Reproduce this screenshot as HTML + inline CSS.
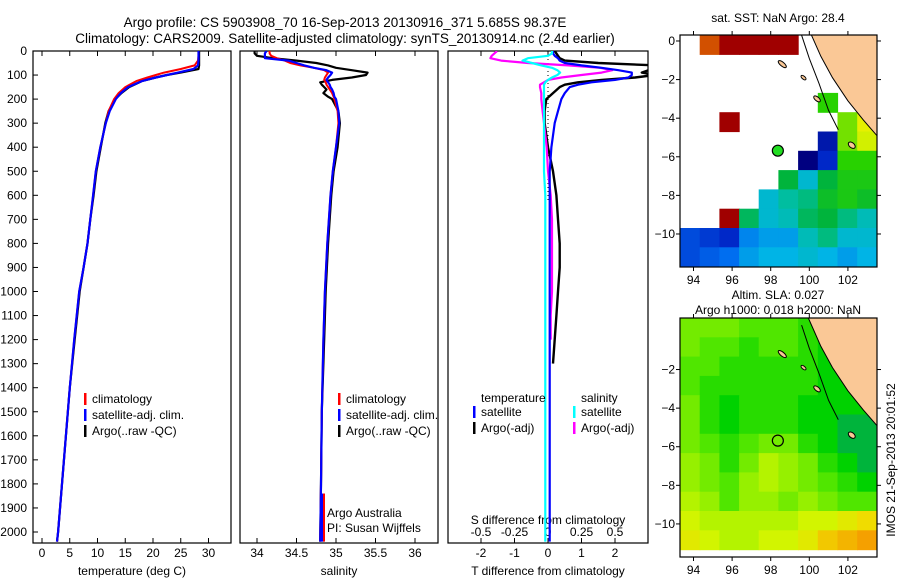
<!DOCTYPE html>
<html><head><meta charset="utf-8"><style>
body{margin:0;background:#fff;}
svg{display:block;font-family:"Liberation Sans",sans-serif;}
text{fill:#000;}
</style></head><body>
<svg id="fig" width="900" height="580" viewBox="0 0 900 580">
<text x="345" y="27" font-size="13.5" text-anchor="middle">Argo profile: CS 5903908_70 16-Sep-2013 20130916_371 5.685S 98.37E</text>
<text x="345" y="43" font-size="13.5" text-anchor="middle">Climatology: CARS2009. Satellite-adjusted climatology: synTS_20130914.nc (2.4d earlier)</text>
<g id="g"></g>
</svg>
<script>
// ---------- data ----------
const depthTicks=[0,100,200,300,400,500,600,700,800,900,1000,1100,1200,1300,1400,1500,1600,1700,1800,1900,2000];
const tempTicks=[0,5,10,15,20,25,30];
const salTicks=[34,34.5,35,35.5,36];
const tDiffTicks=[-2,-1,0,1,2];
const sDiffTicks=[-0.5,-0.25,0,0.25,0.5];
const sDiffTickLabels=["-0.5","-0.25","0","0.25","0.5"];

const depthsT=[0,20,40,60,75,90,100,110,125,150,175,200,250,300,400,500,600,700,800,900,1000,1200,1400,1600,1800,2000,2040];
const climT=[28.2,28.2,28.1,27.5,25,22,20.5,19,17,15,13.8,13,12,11.5,10.5,9.7,9.2,8.7,8.2,7.5,6.7,5.8,5,4.3,3.6,2.9,2.7];
const satT=[28.2,28.2,28.2,28.1,27.3,24.5,22.5,20.5,18,15.5,14.2,13.3,12.2,11.5,10.5,9.7,9.2,8.7,8.2,7.5,6.7,5.8,5,4.3,3.6,2.9,2.7];
const argoT=[28.3,28.3,28.3,28.3,28.2,25,22.5,20.5,18,15.7,14.3,13.2,12,11.4,10.6,9.8,9.3,8.7,8.2,7.5,6.8,5.9,5,4.3,3.6,2.9,2.7];

const depthsS=[0,10,20,30,40,50,60,70,80,90,100,110,120,130,140,150,160,175,190,200,250,300,400,500,600,800,1000,1200,1500,1800,2040];
const climS=[34.16,34.16,34.18,34.25,34.35,34.42,34.55,34.72,34.85,34.9,34.88,34.86,34.85,34.87,34.88,34.9,34.92,34.95,34.97,34.98,35.02,35.03,35.0,34.96,34.93,34.89,34.86,34.84,34.82,34.81,34.8];
const satS=[34.12,34.1,34.1,34.1,34.4,34.5,34.6,34.72,34.88,34.95,34.93,34.9,34.88,34.9,34.92,34.93,34.95,34.97,34.98,35.0,35.03,35.04,35.0,34.96,34.93,34.89,34.86,34.84,34.82,34.81,34.8];
const argoS=[33.97,33.97,34.0,34.2,34.5,34.75,34.9,35.0,35.2,35.4,35.38,35.2,34.95,34.8,34.82,34.85,34.88,34.84,34.9,34.95,35.03,35.05,35.02,34.97,34.94,34.9,34.87,34.85,34.82,34.81,34.8];

const depthsD=[0,10,20,30,40,50,60,70,80,90,100,110,120,130,140,150,175,200,250,300,400,500,600,700,800,900,1000,1100,1200,1300,1500,1800,2040];
const tDiffSat=[0.15,0.15,0.2,0.3,0.35,0.5,1.0,1.6,2.1,2.5,2.5,2.4,2.0,1.3,0.9,0.65,0.5,0.4,0.3,0.2,0.1,0.05,0.05,0.05,0.05,0.05,0.05,0.05,0.05,0.05,0.05,0.05,0.05];
const tDiffArgo=[0.2,0.25,0.3,0.35,0.5,1.5,3.2,3.2,3.0,2.8,3.2,2.6,1.6,0.9,0.5,0.35,0.15,-0.05,-0.1,-0.1,0.0,0.15,0.25,0.3,0.35,0.35,0.3,0.25,0.2,0.15,null,null,null];
const sDiffSat=[0.03,0.03,0.0,-0.15,-0.19,-0.12,-0.05,0.03,0.07,0.09,0.07,0.03,0.0,-0.02,-0.03,-0.03,-0.03,-0.03,-0.03,-0.03,-0.03,-0.03,-0.02,-0.02,-0.02,-0.02,-0.02,-0.02,-0.02,-0.02,-0.02,-0.02,-0.02];
const sDiffArgo=[-0.38,-0.4,-0.42,-0.43,-0.35,-0.15,0.15,0.39,0.48,0.4,0.25,0.1,0.0,-0.03,-0.06,-0.06,-0.05,-0.05,-0.04,-0.03,-0.01,0.0,0.02,0.03,0.03,0.03,0.03,0.02,0.02,null,null,null,null];

const lonTicks=[94,96,98,100,102];
const latTicksTop=[0,-2,-4,-6,-8,-10];
const latTicksBot=[-2,-4,-6,-8,-10];
// SST grid: rows from lat 0.3 downward (1 deg), cols from lon 93.3 (1.02 deg); 0 = no data
const sstGrid=[
[0,29.7,30,30,30,30,0,0,0,0],
[0,0,0,0,0,0,0,0,0,0],
[0,0,0,0,0,0,0,0,0,0],
[0,0,0,0,0,0,0,28.6,0,0],
[0,0,30,0,0,0,0,0,28.8,29.2],
[0,0,0,0,0,0,0,26.8,28.8,29.1],
[0,0,0,0,0,0,26.5,27.0,28.6,28.6],
[0,0,0,0,0,28.3,27.8,28.3,28.5,28.5],
[0,0,0,0,27.8,28.0,28.1,28.4,28.5,28.4],
[0,0,30,28.2,27.8,27.9,28.2,28.3,28.1,27.9],
[27.2,27.1,27.0,27.5,27.6,27.6,27.9,28.1,27.8,27.8],
[27.2,27.3,27.4,27.6,27.7,27.7,27.8,27.7,27.6,27.7]];
// SLA grid: rows from lat 0.67 downward
const slaGrid=[
[0.05,0.05,0.05,0.04,0.04,0.04,0.03,0.03,0.02,0.02],
[0.05,0.04,0.04,0.03,0.04,0.04,0.03,0.02,0.02,0.02],
[0.04,0.04,0.03,0.03,0.03,0.03,0.03,0.02,0.02,0.02],
[0.04,0.03,0.03,0.03,0.03,0.03,0.03,0.02,0.02,0.02],
[0.05,0.03,0.02,0.03,0.03,0.03,0.02,0.02,0.02,0.02],
[0.05,0.03,0.02,0.03,0.03,0.03,0.02,0.02,0.01,0.01],
[0.05,0.04,0.03,0.04,0.05,0.05,0.03,0.02,0.01,0.01],
[0.06,0.05,0.03,0.05,0.07,0.06,0.05,0.03,0.02,0.01],
[0.06,0.05,0.04,0.06,0.07,0.06,0.05,0.04,0.03,0.02],
[0.07,0.06,0.04,0.06,0.06,0.05,0.06,0.05,0.04,0.04],
[0.08,0.07,0.07,0.07,0.07,0.07,0.08,0.08,0.09,0.10],
[0.09,0.08,0.07,0.07,0.08,0.08,0.09,0.11,0.12,0.13]];
const argoLon=98.37, argoLat=-5.685;

// ---------- helpers ----------
const NS="http://www.w3.org/2000/svg";
const G=document.getElementById('g');
function mk(tag,attrs,parent){const e=document.createElementNS(NS,tag);for(const k in attrs)e.setAttribute(k,attrs[k]);(parent||G).appendChild(e);return e;}
function txt(x,y,s,size,anchor,parent){const t=mk('text',{x:x,y:y,'font-size':size||12,'text-anchor':anchor||'start'},parent);t.textContent=s;return t;}
const yD=d=>51+d*0.2405;

function panel(x0,x1,name){
  const r=mk('rect',{x:x0,y:51,width:x1-x0,height:492,fill:'none',stroke:'#000','stroke-width':1.2});
  
  
}
function line(xs,ds,xf,color,w,name){
  let p='',pen=false;
  for(let i=0;i<ds.length;i++){
    if(xs[i]===null||xs[i]===undefined){pen=false;continue;}
    const X=Math.max(-5,Math.min(2000,xf(xs[i])));
    p+=(pen?'L':'M')+X.toFixed(1)+' '+yD(ds[i]).toFixed(1);pen=true;
  }
  const e=mk('path',{d:p,fill:'none',stroke:color,'stroke-width':w,'stroke-linejoin':'round'});
  
  
  return e;
}
function xTicks(vals,labels,xf,y,name){
  vals.forEach((v,i)=>{
    const X=xf(v);
    mk('line',{x1:X,y1:543,x2:X,y2:538,stroke:'#000'});
    mk('line',{x1:X,y1:51,x2:X,y2:56,stroke:'#000'});
    const t=txt(X,y,labels[i],12,'middle');
    
    
  });
}
function clipFor(id,x0,x1){const c=mk('clipPath',{id:id});mk('rect',{x:x0,y:51,width:x1-x0,height:492},c);}

// ---------- panel 1: temperature ----------
const xT=v=>42+v*5.55;
depthTicks.forEach(d=>{
  mk('line',{x1:33,y1:yD(d),x2:38,y2:yD(d),stroke:'#000'});
  const t=txt(27,yD(d)+4,String(d),12,'end');
  
  
});
panel(33,231,'temperature-panel');
xTicks(tempTicks,tempTicks.map(String),xT,557,'temperature-tick-label');
clipFor('c1',33,231);clipFor('c2',240,438);clipFor('c3',448,648);
const g1=mk('g',{'clip-path':'url(#c1)'});
[[argoT,'#000',2.2,'argo-temperature-line'],[climT,'#f00',2,'climatology-temperature-line'],[satT,'#00f',2.2,'satellite-temperature-line']].forEach(a=>{g1.appendChild(line(a[0],depthsT,xT,a[1],a[2],a[3]));});
txt(132,575,'temperature (deg C)',12,'middle');
function legend(x,y,entries,prefix){
  entries.forEach((e,i)=>{
    mk('rect',{x:x,y:y+i*16-9,width:2.5,height:12,fill:e[1]});
    const t=txt(x+8,y+i*16+1,e[0],12);
    
    
  });
}
legend(84,402,[['climatology','#f00'],['satellite-adj. clim.','#00f'],['Argo(..raw -QC)','#000']],'temperature');

// ---------- panel 2: salinity ----------
const xS=v=>257+(v-34)*79;
panel(240,438,'salinity-panel');
xTicks(salTicks,['34','34.5','35','35.5','36'],xS,557,'salinity-tick-label');
const g2=mk('g',{'clip-path':'url(#c2)'});
[[argoS,'#000',2.2,'argo-salinity-line'],[climS,'#f00',2,'climatology-salinity-line'],[satS,'#00f',2.2,'satellite-salinity-line']].forEach(a=>{g2.appendChild(line(a[0],depthsS,xS,a[1],a[2],a[3]));});
txt(339,575,'salinity',12,'middle');
legend(338,402,[['climatology','#f00'],['satellite-adj. clim.','#00f'],['Argo(..raw -QC)','#000']],'salinity');
mk('rect',{x:321,y:yD(1840),width:2.5,height:yD(2040)-yD(1840),fill:'#00f'});
mk('rect',{x:323,y:yD(1840),width:2,height:yD(2040)-yD(1840),fill:'#f00'});
txt(327,517,'Argo Australia',12);
txt(327,532,'PI: Susan Wijffels',12);

// ---------- panel 3: differences ----------
const xTD=v=>548+v*33.5;
const xSD=v=>548+v*134;
panel(448,648,'difference-panel');
xTicks(tDiffTicks,tDiffTicks.map(String),xTD,557,'t-diff-tick-label');
sDiffTicks.forEach((v,i)=>{const t=txt(xSD(v),536,sDiffTickLabels[i],12,'middle');});
txt(548,524,'S difference from climatology',12,'middle');
txt(548,575,'T difference from climatology',12,'middle');
mk('line',{x1:548,y1:51,x2:548,y2:200,stroke:'#000','stroke-dasharray':'1 3'});
const g3=mk('g',{'clip-path':'url(#c3)'});
[[tDiffArgo,xTD,'#000',2.4,'argo-t-diff-line'],[sDiffArgo,xSD,'#f0f',2.2,'argo-s-diff-line'],[tDiffSat,xTD,'#00f',2.2,'satellite-t-diff-line'],[sDiffSat,xSD,'#0ff',2.2,'satellite-s-diff-line']].forEach(a=>{g3.appendChild(line(a[0],depthsD,a[1],a[2],a[3],a[4]));});
txt(481,402,'temperature',12);
txt(581,402,'salinity',12);
legend(473,415,[['satellite','#00f'],['Argo(-adj)','#000']],'diff-temperature');
legend(573,415,[['satellite','#0ff'],['Argo(-adj)','#f0f']],'diff-salinity');

// ---------- maps ----------
function interp(stops,v){
  if(v<=stops[0][0])return stops[0][1];
  for(let i=1;i<stops.length;i++){if(v<=stops[i][0]){const a=stops[i-1],b=stops[i],f=(v-a[0])/(b[0]-a[0]);return 'rgb('+[0,1,2].map(k=>Math.round(a[1][k]+f*(b[1][k]-a[1][k]))).join(',')+')';}}
  const l=stops[stops.length-1][1];return 'rgb('+l.join(',')+')';
}
function fix(stops){return stops.map(s=>[s[0],s[1]]);}
const sstStops=[[26.5,[0,0,128]],[27.0,[0,40,200]],[27.4,[0,110,240]],[27.7,[0,180,230]],[28.0,[0,190,160]],[28.3,[0,180,60]],[28.6,[40,210,0]],[29.0,[190,240,0]],[29.3,[250,240,0]],[29.7,[210,80,0]],[30,[160,0,0]]];
const slaStops=[[0.01,[0,180,60]],[0.02,[0,210,0]],[0.04,[80,230,0]],[0.06,[150,240,0]],[0.08,[210,245,0]],[0.10,[240,220,0]],[0.13,[245,160,0]]];
function colr(stops,v){if(v<=stops[0][0]){const c=stops[0][1];return 'rgb('+c.join(',')+')';}return interp(stops,v);}

function map(x0,y0,w,h,latTop,grid,stops,ticks,id,name,filled){
  const lonL=93.3,sc=19.3;
  const X=lo=>x0+(lo-lonL)*sc, Y=la=>y0+(latTop-la)*sc;
  const cp=mk('clipPath',{id:id});mk('rect',{x:x0,y:y0,width:w,height:h},cp);
  const g=mk('g',{'clip-path':'url(#'+id+')'});
  
  
  mk('rect',{x:x0,y:y0,width:w,height:h,fill:'#fff'},g);
  grid.forEach((row,r)=>row.forEach((v,c)=>{
    if(!v)return;
    const cell=mk('rect',{x:(X(lonL+c*1.02)).toFixed(1),y:(Y(latTop-r)).toFixed(1),width:(1.02*sc+0.6).toFixed(1),height:(sc+0.6).toFixed(1),fill:colr(stops,v)},g);
    
    
  }));
  const land=[[99.8,1],[100.2,0.1],[100.6,-0.8],[101.2,-1.9],[102.0,-3.1],[102.8,-4.1],[103.5,-4.9],[104,-5],[104,1]];
  const lp=mk('polygon',{points:land.map(p=>X(p[0]).toFixed(1)+','+Y(p[1]).toFixed(1)).join(' '),fill:'#fac896',stroke:'#000','stroke-width':1},g);
  
  
  const shelf=[[99.6,0.3],[100.0,-0.9],[100.5,-2.2],[101.0,-3.6],[101.5,-4.6]];
  mk('polyline',{points:shelf.map(p=>X(p[0]).toFixed(1)+','+Y(p[1]).toFixed(1)).join(' '),fill:'none',stroke:'#000','stroke-width':1},g);
  [[98.6,-1.2,5,2],[99.7,-1.9,3,1.5],[100.4,-3.0,4,2],[102.2,-5.4,4,2.5]].forEach(isl=>{
    mk('ellipse',{cx:X(isl[0]),cy:Y(isl[1]),rx:isl[2],ry:isl[3],fill:'#fac896',stroke:'#000','stroke-width':1,transform:'rotate(40 '+X(isl[0])+' '+Y(isl[1])+')'},g);
  });
  const pt=mk('circle',{cx:X(argoLon),cy:Y(argoLat),r:5.5,fill:filled?'#22dd22':'none',stroke:'#000','stroke-width':1.2});
  
  
  const fr=mk('rect',{x:x0,y:y0,width:w,height:h,fill:'none',stroke:'#000','stroke-width':1.2});
  
  
  lonTicks.forEach(lo=>{mk('line',{x1:X(lo),y1:y0+h,x2:X(lo),y2:y0+h+4,stroke:'#000'});mk('line',{x1:X(lo),y1:y0,x2:X(lo),y2:y0-4,stroke:'#000'});const t=txt(X(lo),y0+h+17,String(lo),12,'middle');});
  ticks.forEach(la=>{mk('line',{x1:x0,y1:Y(la),x2:x0-4,y2:Y(la),stroke:'#000'});mk('line',{x1:x0+w,y1:Y(la),x2:x0+w+4,y2:Y(la),stroke:'#000'});const t=txt(x0-5,Y(la)+4,String(la).replace('-','\u2212'),12,'end');});
}
map(680,35,197,232,0.31,sstGrid,sstStops,latTicksTop,'m1','sst-map',true);
map(680,318,197,239,0.67,slaGrid,slaStops,latTicksBot,'m2','sla-map',false);
txt(778,22,'sat. SST: NaN Argo: 28.4',12,'middle');
txt(778,299,'Altim. SLA: 0.027',12,'middle');
txt(778,314,'Argo h1000: 0.018 h2000: NaN',12,'middle');
const st=txt(0,0,'IMOS 21-Sep-2013 20:01:52',12,'middle');
st.setAttribute('transform','translate(895,460) rotate(-90)');


</script>
</body></html>
